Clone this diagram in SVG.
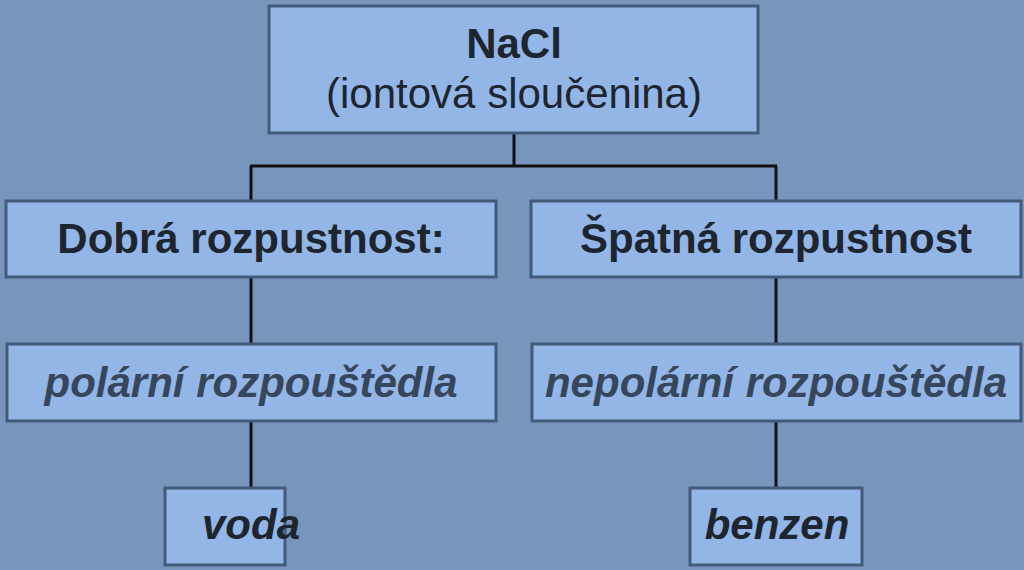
<svg xmlns="http://www.w3.org/2000/svg" width="1024" height="570" viewBox="0 0 1024 570">
<style>
.box{fill:#93b6e6;stroke:#435a78;stroke-width:3}
.t{font-family:"Liberation Sans",Arial,sans-serif;font-size:42px;text-anchor:middle;fill:#1d2530}
.b{font-weight:bold}
.i{font-style:italic;font-weight:bold}
.m{fill:#36465c}
.c{stroke:#111;stroke-width:3;fill:none}
</style>
<rect width="1024" height="570" fill="#7896bc"/>
<g id="connectors">
<path class="c" d="M514 133V166M250 166H777M251 166V201M776 166V201M251 277V344M776 277V344M251 421V488M776 421V488"/>
</g>
<g id="nacl">
<rect class="box" x="269" y="6" width="489" height="127"/>
<text class="t b" x="514" y="58">NaCl</text>
<text class="t" x="514" y="108">(iontová sloučenina)</text>
</g>
<g id="dobra">
<rect class="box" x="6" y="201" width="490" height="76"/>
<text class="t b" x="251" y="253">Dobrá rozpustnost:</text>
</g>
<g id="spatna">
<rect class="box" x="531" y="201" width="490" height="76"/>
<text class="t b" x="776" y="253">Špatná rozpustnost</text>
</g>
<g id="polarni">
<rect class="box" x="7" y="344" width="489" height="77"/>
<text class="t i m" x="251" y="397">polární rozpouštědla</text>
</g>
<g id="nepolarni">
<rect class="box" x="532" y="344" width="489" height="77"/>
<text class="t i m" x="776" y="397">nepolární rozpouštědla</text>
</g>
<g id="voda">
<rect class="box" x="165" y="488" width="120" height="77"/>
<text class="t i" x="251" y="539">voda</text>
</g>
<g id="benzen">
<rect class="box" x="690" y="488" width="172" height="77"/>
<text class="t i" x="777" y="539">benzen</text>
</g>
</svg>
